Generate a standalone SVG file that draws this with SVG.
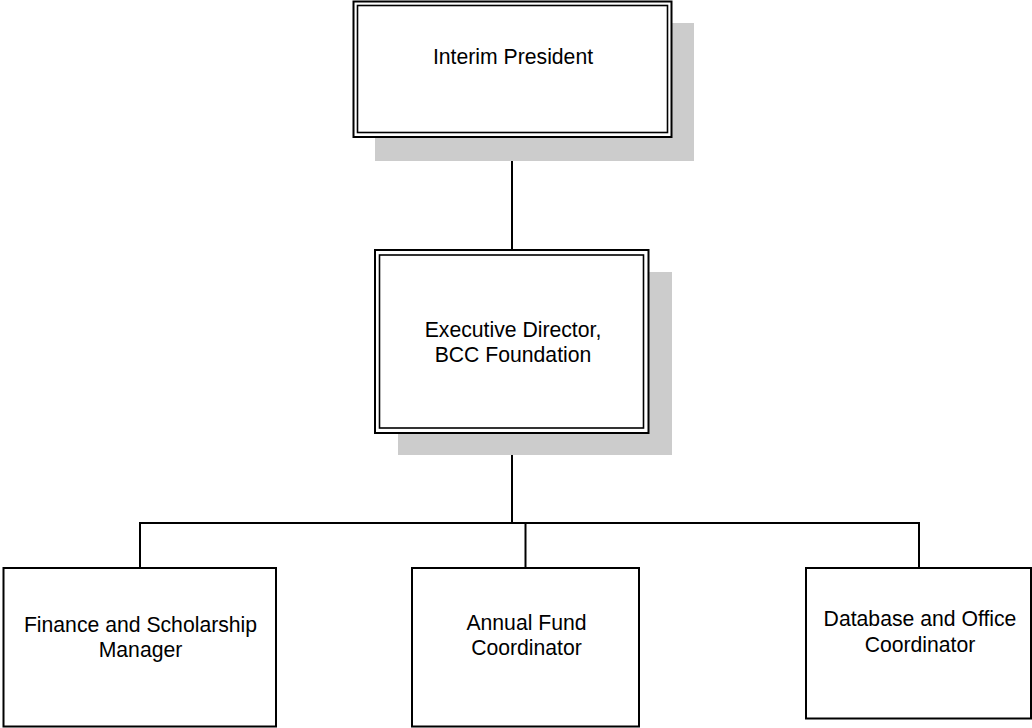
<svg xmlns="http://www.w3.org/2000/svg" width="1032" height="728" viewBox="0 0 1032 728">
<style>
.box{fill:#fff;stroke:#000;stroke-width:2}
.inner{fill:none;stroke:#000;stroke-width:1.6}
.shadow{fill:#cccccc}
.lbl{font-family:"Liberation Sans",Arial,sans-serif;font-size:21.2px;fill:#000;text-anchor:middle}
.conn{fill:none;stroke:#000;stroke-width:2}
</style>
<rect width="1032" height="728" fill="#fff"/>
<g id="connectors">
<line class="conn" x1="512" y1="137" x2="512" y2="250"/>
<line class="conn" x1="512" y1="433" x2="512" y2="523"/>
<polyline class="conn" points="140,568 140,523 919,523 919,568"/>
<line class="conn" x1="525.5" y1="523" x2="525.5" y2="568" stroke-width="1.5"/>
</g>
<g id="interim-president">
<rect class="shadow" x="375" y="23" width="319" height="138"/>
<rect class="box" x="353.5" y="1.5" width="318" height="135.5"/>
<rect class="inner" x="357.5" y="5.5" width="310" height="127"/>
<text class="lbl" x="513" y="64">Interim President</text>
</g>
<g id="executive-director">
<rect class="shadow" x="398" y="272" width="274" height="183"/>
<rect class="box" x="375" y="250" width="273.5" height="183"/>
<rect class="inner" x="379.5" y="255" width="264" height="173"/>
<text class="lbl" x="513" y="337">Executive Director,</text>
<text class="lbl" x="513" y="362">BCC Foundation</text>
</g>
<g id="finance-manager">
<rect class="box" x="3.5" y="568" width="272.5" height="158.5"/>
<text class="lbl" x="140.5" y="632">Finance and Scholarship</text>
<text class="lbl" x="140.5" y="657">Manager</text>
</g>
<g id="annual-fund">
<rect class="box" x="412" y="568" width="227" height="158.5"/>
<text class="lbl" x="526.5" y="629.5">Annual Fund</text>
<text class="lbl" x="526.5" y="654.5">Coordinator</text>
</g>
<g id="database-office">
<rect class="box" x="806" y="568" width="225" height="150.5"/>
<text class="lbl" x="920" y="626">Database and Office</text>
<text class="lbl" x="920" y="651.5">Coordinator</text>
</g>
</svg>
